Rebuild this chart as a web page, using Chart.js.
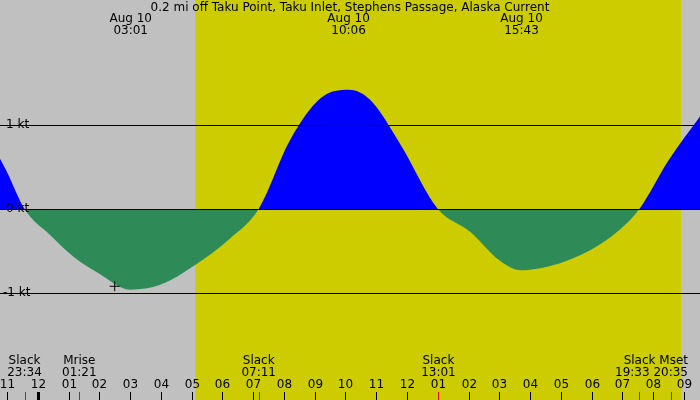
<!DOCTYPE html>
<html>
<head>
<meta charset="utf-8">
<script src="https://cdn.jsdelivr.net/npm/chart.js@4"></script>
<style>
  html, body { margin: 0; padding: 0; background: #c0c0c0; }
  #wrap { width: 700px; height: 400px; }
</style>
</head>
<body>
<div id="wrap"><canvas id="c"></canvas></div>
<script>
// time axis: hours since 23:00 Aug 9
const times = [-0.23, 0, 0.57, 1.4, 2.2, 3.0, 4.0, 5.0, 6.1, 7.25, 8.18,
  9.2, 10.2, 11.1, 11.8, 12.8, 14.0, 15.05, 16.0, 16.7, 17.65, 18.95, 19.9, 20.55, 21.5, 22.52]
const speeds = [0.60, 0.44, 0, -0.31, -0.58, -0.77, -0.96, -0.90, -0.67, -0.35, 0,
  0.82, 1.32, 1.42, 1.30, 0.76, 0, -0.27, -0.61, -0.73, -0.68, -0.49, -0.25, 0, 0.58, 1.10]
const hourLabels = ['11','12','01','02','03','04','05','06','07','08','09','10',
  '11','12','01','02','03','04','05','06','07','08','09']
const dayStart = 6.12, dayEnd = 21.9
const topEvents = [[4.02, 'Aug 10', '03:01'], [11.1, 'Aug 10', '10:06'], [16.72, 'Aug 10', '15:43']]
const bottomEvents = [[0.57, 'Slack', '23:34', 'center'], [2.35, 'Mrise', '01:21', 'center'],
  [8.18, 'Slack', '07:11', 'center'], [14.02, 'Slack', '13:01', 'center'], [22.52, 'Slack Mset', '19:33 20:35', 'right']]
const redTicks = [0.57, 2.35, 8.18, 14.02, 20.55, 21.58]
const ktLines = [1, 0, -1]
const nowMark = [3.5, -0.92]

const decor = {
  id: 'decor',
  beforeDatasetsDraw(chart) {
    const {ctx, scales: {x, y}} = chart
    ctx.save()
    ctx.fillStyle = '#c0c0c0'
    ctx.fillRect(0, 0, 700, 400)
    ctx.fillStyle = '#cccc00'
    ctx.fillRect(x.getPixelForValue(dayStart), 0, x.getPixelForValue(dayEnd) - x.getPixelForValue(dayStart), 400)
    ctx.restore()
  },
  afterDatasetsDraw(chart) {
    const {ctx, scales: {x, y}} = chart
    ctx.save()
    ctx.strokeStyle = '#000'
    ctx.lineWidth = 1
    ktLines.forEach(v => {
      const py = Math.round(y.getPixelForValue(v)) + 0.5
      ctx.beginPath(); ctx.moveTo(0, py); ctx.lineTo(700, py); ctx.stroke()
    })
    ctx.font = '12px "DejaVu Sans", sans-serif'
    ctx.fillStyle = '#000'
    ctx.textBaseline = 'middle'
    ctx.textAlign = 'left'
    ktLines.forEach(v => ctx.fillText(v + ' kt', v < 0 ? 3 : 6, y.getPixelForValue(v)))
    ctx.textAlign = 'center'
    ctx.fillText('0.2 mi off Taku Point, Taku Inlet, Stephens Passage, Alaska Current', 350, 8)
    topEvents.forEach(([t, a, b]) => {
      const px = x.getPixelForValue(t)
      ctx.fillText(a, px, 19); ctx.fillText(b, px, 31)
    })
    bottomEvents.forEach(([t, a, b, al]) => {
      const px = x.getPixelForValue(t)
      ctx.textAlign = al
      const ox = al === 'right' ? -12 : 0
      ctx.fillText(a, px + ox, 361); ctx.fillText(b, px + ox, 373)
    })
    ctx.textAlign = 'center'
    hourLabels.forEach((lab, i) => {
      const px = Math.round(x.getPixelForValue(i)) + 0.5
      ctx.fillText(lab, px, 385)
      ctx.lineWidth = i === 1 ? 3 : 1
      ctx.beginPath(); ctx.moveTo(px, 392); ctx.lineTo(px, 400); ctx.stroke()
    })
    ctx.lineWidth = 1
    ctx.strokeStyle = '#ff0000'
    redTicks.forEach(t => {
      const px = Math.round(x.getPixelForValue(t)) + 0.5
      ctx.beginPath(); ctx.moveTo(px, 392); ctx.lineTo(px, 400); ctx.stroke()
    })
    ctx.strokeStyle = '#000'
    const mx = x.getPixelForValue(nowMark[0]), my = y.getPixelForValue(nowMark[1])
    ctx.beginPath(); ctx.moveTo(mx - 5, my); ctx.lineTo(mx + 5, my)
    ctx.moveTo(mx, my - 5); ctx.lineTo(mx, my + 5); ctx.stroke()
    ctx.restore()
  }
}

new Chart(document.getElementById('c'), {
  type: 'line',
  data: {
    datasets: [{
      data: times.map((t, i) => ({x: t, y: speeds[i]})),
      borderWidth: 0,
      pointRadius: 0,
      cubicInterpolationMode: 'monotone',
      fill: {target: 'origin', above: '#0000ff', below: '#2e8b57'}
    }]
  },
  options: {
    responsive: true,
    maintainAspectRatio: false,
    animation: false,
    layout: {padding: 0},
    plugins: {legend: {display: false}, tooltip: {enabled: false}},
    scales: {
      x: {type: 'linear', display: false, min: -0.227, max: 22.52},
      y: {display: false, min: -2.274, max: 2.488}
    }
  },
  plugins: [decor]
})
</script>
</body>
</html>
